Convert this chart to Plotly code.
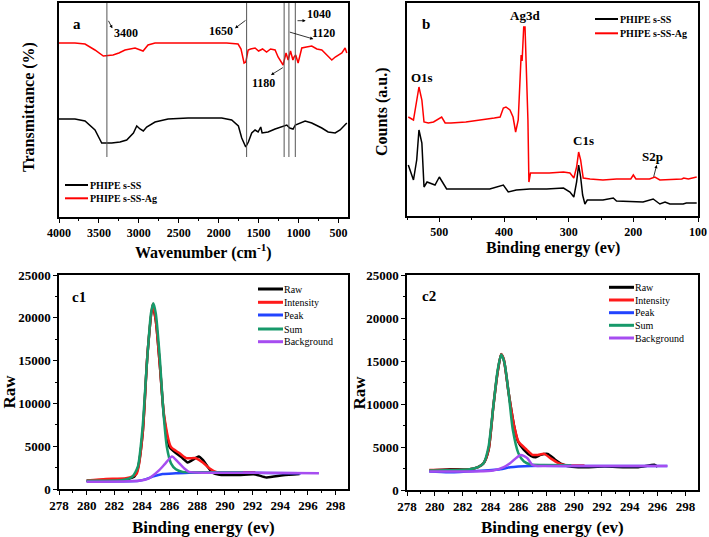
import plotly.graph_objects as go

W, H = 709, 537
FONT = "Liberation Serif"

# ---------------- Panel a : FTIR ----------------
ftir_wn_ss = [4000, 3800, 3674, 3549, 3465, 3400, 3340, 3236, 3152, 3068, 3026, 2985, 2944, 2902, 2797,
              2634, 2383, 1962, 1837, 1753, 1711, 1661, 1628, 1586, 1544, 1506, 1473, 1456, 1381, 1293,
              1209, 1147, 1110, 1068, 1040, 959, 917, 834, 708, 629, 541, 479, 437, 395]
ftir_t_ss = [98, 98, 96, 87, 74, 74, 74, 75, 77, 84, 91, 88, 86, 90, 95,
             98, 99, 99, 97, 91, 79, 70, 75, 84, 87, 85, 90, 84, 85, 88,
             90, 92, 89, 88, 92, 95, 96, 94, 89, 85, 84, 87, 90, 94]
ftir_wn_ag = [4000, 3800, 3674, 3550, 3445, 3323, 3250, 3173, 3047, 2947, 2885, 2797, 2500, 2200, 1900,
              1757, 1720, 1682, 1660, 1631, 1600, 1544, 1500, 1450, 1400, 1350, 1293, 1256, 1210, 1193,
              1156, 1130, 1100, 1070, 1055, 1035, 1005, 959, 900, 834, 770, 708, 645, 583, 540,
              503, 457, 416, 395]
ftir_t_ag = [174, 174, 173, 167, 161, 162, 164, 167, 169, 166, 172, 174, 174, 174, 174,
             173, 168, 154, 155, 167, 168, 169, 166, 168, 165, 168, 167, 160, 155, 152,
             164, 157, 166, 157, 160, 162, 154, 169, 170, 171, 168, 167, 162, 157, 160,
             162, 164, 169, 164]
ftir_marks = [3400, 1650, 1180, 1120, 1040]
ftir_mark_bottom = 60
ftir_names = ["PHIPE s-SS", "PHIPE s-SS-Ag"]

# ---------------- Panel b : XPS survey ----------------
xps_be_ss = [548, 540, 535, 531.5, 527, 523.7, 519, 514, 506.7, 500, 495, 488.7, 463, 437, 422, 401, 393.4,
             381, 360, 334, 308, 298, 292, 287.7, 284.6, 281.5, 278.4, 274.9, 271.2, 247, 231, 226, 185,
             169.3, 159, 151, 143.5, 123, 118, 102]
xps_c_ss = [51, 36, 56, 86, 73, 29, 34, 33, 31, 39, 33, 27, 27, 27, 27, 31, 24,
            26, 27, 27, 28, 24, 19, 34, 51, 39, 21, 12, 16, 16, 18, 15, 14,
            17, 12, 14, 12, 12, 13, 13]
xps_be_ag = [548, 540, 531.5, 527, 523.7, 517, 509, 496.4, 491, 482, 459, 432, 415, 406, 401, 397, 390.8,
             386, 382, 378, 375.3, 373.5, 372, 369.5, 367.5, 365.5, 363, 361.5, 359, 350, 330, 308, 298,
             292, 287.7, 284.6, 281.5, 277.5, 267, 247, 226, 204, 200, 196, 175, 166.7, 159, 125, 122,
             115, 102]
xps_c_ag = [99, 96, 129, 116, 94, 93, 94, 99, 93, 93, 94, 96, 98, 99, 108, 109, 106,
            99, 84, 96, 133, 161, 155, 189, 189, 150, 96, 34, 43, 43, 43, 44, 43,
            38, 49, 64, 56, 38, 37, 36, 37, 37, 41, 37, 37, 39, 36, 37, 38,
            37, 39]
xps_peaks = ["O1s", "Ag3d", "C1s", "S2p"]

# ---------------- Panels c1 / c2 : C1s fits ----------------
c_names = ["Raw", "Intensity", "Peak", "Sum", "Background"]
c_colors = ["#000000", "#ff1a1a", "#2244ff", "#17996a", "#a64df0"]

c1_raw_x = [280, 281.4, 282.85, 283.45, 283.7, 284.05, 284.4, 284.77, 285.0, 285.3, 285.6, 286.0, 286.45,
            286.94, 287.3, 287.66, 288.1, 288.4, 288.75, 289.1, 289.6, 291.0, 292.2, 293.0, 294.2, 295.4]
c1_raw_y = [970, 1050, 1130, 1440, 2400, 6500, 15800, 21500, 19700, 14300, 8400, 4900, 4200,
            3600, 3100, 3400, 3800, 3400, 2600, 1900, 1650, 1650, 1700, 1350, 1600, 1750]
c1_int_x = [280, 281.4, 282.85, 283.6, 284.05, 284.4, 284.77, 285.0, 285.3, 285.6, 286.1, 286.7, 287.2,
            287.9, 288.4, 288.9, 289.35, 289.8, 291.0, 292.2]
c1_int_y = [1000, 1170, 1250, 1750, 6500, 15800, 21600, 19700, 14300, 8600, 4900, 4200, 3600,
            3600, 3100, 2400, 2000, 1900, 1950, 1950]
c1_peak_x = [280, 283.8, 284.3, 284.77, 285.5, 286.45, 287.4, 290, 293, 295.5]
c1_peak_y = [880, 970, 1150, 1440, 1750, 1830, 1900, 1900, 1880, 1850]
c1_sum_x = [280, 282.6, 283.3, 283.7, 284.05, 284.34, 284.65, 284.82, 285.0, 285.3, 285.54, 285.8, 286.1,
            286.45, 286.94, 288.6, 291.3]
c1_sum_y = [970, 1050, 1440, 2600, 7300, 14300, 20500, 21700, 20500, 15100, 9200, 4900, 3000,
            2300, 2000, 1950, 1950]
c1_bg_x = [280, 283.8, 284.5, 285.25, 285.7, 286.17, 286.58, 287.06, 287.4, 288.6, 292.2, 296.8]
c1_bg_y = [860, 970, 1250, 2200, 3000, 3800, 3200, 2400, 2000, 1900, 1900, 1830]

c2_raw_x = [279.64, 281.1, 282.5, 283.1, 283.5, 283.86, 284.2, 284.5, 284.76, 284.95, 285.3, 285.7, 285.97,
            286.4, 286.9, 287.25, 287.6, 288.1, 288.6, 289.1, 289.5, 290.3, 292.2, 294.6, 295.8, 296.0]
c2_raw_y = [2260, 2410, 2410, 2650, 3110, 4670, 9720, 13600, 15750, 15170, 11280, 7390, 5640,
            4670, 3970, 3810, 4080, 4200, 3580, 3030, 2800, 2650, 2720, 2650, 2920, 2700]
c2_int_x = [279.6, 282.5, 283.1, 283.5, 283.86, 284.2, 284.5, 284.76, 284.95, 285.3, 285.7, 286.0, 286.6,
            287.0, 287.4, 287.85, 288.3, 288.8, 289.3, 290.75]
c2_int_y = [2330, 2410, 2650, 3110, 4700, 9700, 13600, 15800, 15200, 11300, 7400, 5640, 4670,
            4080, 4080, 4200, 3700, 3190, 2920, 2840]
c2_peak_x = [279.6, 281.1, 284.7, 285.4, 286.9, 290, 294, 296.7]
c2_peak_y = [2140, 2060, 2410, 2650, 2800, 2800, 2800, 2800]
c2_sum_x = [279.6, 282.5, 283.1, 283.5, 283.86, 284.2, 284.5, 284.76, 285.0, 285.3, 285.6, 286.0, 286.4,
            286.9, 287.85, 289.8]
c2_sum_y = [2260, 2410, 2650, 3110, 5060, 9720, 13800, 15750, 14800, 11280, 7000, 4280, 3310,
            2960, 2920, 2880]
c2_bg_x = [279.6, 284.2, 284.95, 285.4, 286.16, 286.65, 287.0, 287.4, 289.8, 296.7]
c2_bg_y = [2140, 2260, 2650, 3110, 4080, 3700, 2920, 2800, 2800, 2800]


def PX(x):
    return x / W


def PY(y):
    return 1 - y / H


fig = go.Figure()

# panel a traces
fig.add_trace(go.Scatter(x=ftir_wn_ss, y=ftir_t_ss, mode="lines", line=dict(color="black", width=1.5),
                         name=ftir_names[0], xaxis="x", yaxis="y"))
fig.add_trace(go.Scatter(x=ftir_wn_ag, y=ftir_t_ag, mode="lines", line=dict(color="#ff0000", width=1.5),
                         name=ftir_names[1], xaxis="x", yaxis="y"))
# panel b traces
fig.add_trace(go.Scatter(x=xps_be_ss, y=xps_c_ss, mode="lines", line=dict(color="black", width=1.5),
                         name=ftir_names[0], xaxis="x2", yaxis="y2"))
fig.add_trace(go.Scatter(x=xps_be_ag, y=xps_c_ag, mode="lines", line=dict(color="#ff0000", width=1.5),
                         name=ftir_names[1], xaxis="x2", yaxis="y2"))

c1_sets = [(c1_raw_x, c1_raw_y), (c1_int_x, c1_int_y), (c1_peak_x, c1_peak_y), (c1_sum_x, c1_sum_y),
           (c1_bg_x, c1_bg_y)]
c2_sets = [(c2_raw_x, c2_raw_y), (c2_int_x, c2_int_y), (c2_peak_x, c2_peak_y), (c2_sum_x, c2_sum_y),
           (c2_bg_x, c2_bg_y)]
for sets, xa, ya in [(c1_sets, "x3", "y3"), (c2_sets, "x4", "y4")]:
    for (xs, ys), nm, col in zip(sets, c_names, c_colors):
        fig.add_trace(go.Scatter(x=xs, y=ys, mode="lines", name=nm,
                                 line=dict(color=col, width=2.5, shape="spline", smoothing=0.6),
                                 xaxis=xa, yaxis=ya))

tickf = dict(family=FONT, size=12, color="black", weight="bold")
tickfc = dict(family=FONT, size=13, color="black", weight="bold")
axcommon = dict(showline=True, linecolor="black", linewidth=1.5, mirror=True, showgrid=False,
                zeroline=False, automargin=False)
xt = dict(ticks="outside", ticklen=4, tickwidth=1.2, tickcolor="black")

fig.update_layout(
    width=W, height=H, margin=dict(l=0, r=0, t=0, b=0, autoexpand=False),
    paper_bgcolor="white", plot_bgcolor="white", showlegend=False,
    xaxis=dict(domain=[PX(59), PX(348)], range=[4000, 380], anchor="y", dtick=500, tick0=0,
               tickfont=tickf, minor=dict(dtick=250, ticks="outside", ticklen=2.5, tickcolor="black"),
               **xt, **axcommon),
    yaxis=dict(domain=[PY(217), PY(3)], range=[0, 214], anchor="x", showticklabels=False, ticks="",
               **axcommon),
    xaxis2=dict(domain=[PX(407), PX(698)], range=[550, 100], anchor="y2", dtick=100, tick0=0,
                tickfont=tickf, minor=dict(dtick=50, ticks="outside", ticklen=2.5, tickcolor="black"),
                **xt, **axcommon),
    yaxis2=dict(domain=[PY(216), PY(3)], range=[0, 213], anchor="x2", showticklabels=False, ticks="",
                **axcommon),
    xaxis3=dict(domain=[PX(59), PX(348)], range=[278, 298.9], anchor="y3", dtick=2, tick0=0,
                tickfont=tickfc, minor=dict(dtick=1, ticks="outside", ticklen=2.5, tickcolor="black"),
                **xt, **axcommon),
    yaxis3=dict(domain=[PY(489), PY(275)], range=[0, 25000], anchor="x3", dtick=5000, tick0=0,
                tickformat="d", tickfont=tickfc,
                minor=dict(dtick=2500, ticks="outside", ticklen=2.5, tickcolor="black"),
                **xt, **axcommon),
    xaxis4=dict(domain=[PX(407), PX(698)], range=[278, 298.9], anchor="y4", dtick=2, tick0=0,
                tickfont=tickfc, minor=dict(dtick=1, ticks="outside", ticklen=2.5, tickcolor="black"),
                **xt, **axcommon),
    yaxis4=dict(domain=[PY(490), PY(275)], range=[0, 25000], anchor="x4", dtick=5000, tick0=0,
                tickformat="d", tickfont=tickfc,
                minor=dict(dtick=2500, ticks="outside", ticklen=2.5, tickcolor="black"),
                **xt, **axcommon),
)

# vertical marker lines in panel a
for wn in ftir_marks:
    fig.add_shape(type="line", xref="x", yref="y", x0=wn, x1=wn, y0=ftir_mark_bottom, y1=214,
                  line=dict(color="#555555", width=1))


def text(s, x, y, size, bold=True, angle=0, xanchor="center"):
    fig.add_annotation(text=f"<b>{s}</b>" if bold else s, x=PX(x), y=PY(y), xref="paper", yref="paper",
                       showarrow=False, textangle=angle, xanchor=xanchor, yanchor="middle",
                       font=dict(family=FONT, size=size, color="black"))


def arrow(tail, head, width=0.8):
    fig.add_annotation(x=PX(head[0]), y=PY(head[1]), xref="paper", yref="paper", text="",
                       showarrow=True, ax=tail[0] - head[0], ay=tail[1] - head[1],
                       arrowhead=2, arrowsize=0.8, arrowwidth=width, arrowcolor="black")


# panel a labels
text("a", 77, 24, 15)
text(str(ftir_marks[0]), 126, 33, 12)
arrow((107.7, 19.3), (112.3, 28.3))
text(str(ftir_marks[1]), 221, 31, 12)
arrow((247, 19.3), (235, 28.3))
text(str(ftir_marks[4]), 319, 14, 12)
arrow((296, 20.7), (305.7, 20.7))
text(str(ftir_marks[3]), 323.5, 33.5, 12)
arrow((288.3, 31.7), (313.3, 39))
text(str(ftir_marks[2]), 263.5, 82.7, 12)
arrow((284.3, 66.7), (271, 75))
text("Transmittance (%)", 29, 107, 16, angle=-90)
text("Wavenumber (cm<sup>-1</sup>)", 203, 252, 16)

# panel b labels
text("b", 426, 24, 15)
text(xps_peaks[0], 421.7, 77.3, 13)
text(xps_peaks[1], 525.3, 16, 13)
text(xps_peaks[2], 583.7, 140.7, 13)
text(xps_peaks[3], 652.3, 156.7, 13)
arrow((653.3, 178.3), (656.7, 165))
text("Counts (a.u.)", 382, 112, 16, angle=-90)
text("Binding energy (ev)", 553, 248, 16)

# panel c labels
text("c1", 79, 297, 15)
text("c2", 429, 296, 15)
text("Raw", 8.5, 392, 17, angle=-90)
text("Raw", 358.5, 393, 17, angle=-90)
text("Binding energy (ev)", 203, 527, 17)
text("Binding energy (ev)", 552, 527, 17)


# hand-drawn legends (compact like the original)
def legend(names, colors, x0, x1, ys, tx, size, bold, lw):
    for nm, col, yy in zip(names, colors, ys):
        fig.add_shape(type="line", xref="paper", yref="paper", x0=PX(x0), x1=PX(x1), y0=PY(yy), y1=PY(yy),
                      line=dict(color=col, width=lw))
        text(nm, tx, yy, size, bold=bold, xanchor="left")


legend(ftir_names, ["black", "#ff0000"], 65, 88, [185, 198.3], 88, 10, True, 2)
legend(ftir_names, ["black", "#ff0000"], 595, 618, [19, 33.3], 618, 10, True, 2)
legend(c_names, c_colors, 258, 283, [289, 302.3, 315, 329, 341.7], 282, 10, False, 3)
legend(c_names, c_colors, 609, 634, [287.3, 300, 312.7, 325.3, 338], 633, 10, False, 3)

fig.write_html("out.html", config={"displayModeBar": False},
               post_script="document.body.style.margin='0';document.body.style.overflow='hidden';")
